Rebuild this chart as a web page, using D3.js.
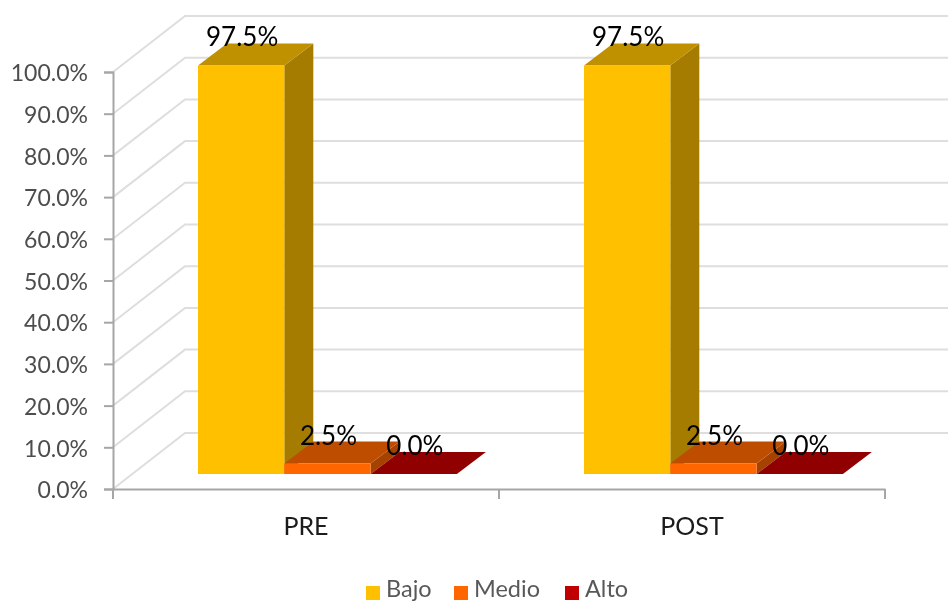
<!DOCTYPE html>
<html><head><meta charset="utf-8">
<script src="https://cdn.jsdelivr.net/npm/d3@7"></script>
<style>html,body{margin:0;background:#fff;overflow:hidden}svg{display:block}text{font-family:Lato,"Open Sans",sans-serif}</style>
</head><body><svg id="c" width="948" height="603"></svg>
<script>
const categories=["PRE","POST"];
const seriesNames=["Bajo","Medio","Alto"];
const bajo=[97.5,97.5];
const medio=[2.5,2.5];
const alto=[0,0];
const seriesValues=[bajo,medio,alto];
const tickValues=[0,10,20,30,40,50,60,70,80,90,100];
const frontColors=["#FFC000","#FF6600","#C00000"];
const topColors=["#BF9000","#BF4D00","#900000"];
const sideColors=["#A67C00","#A64200","#700000"];
const legendColors=["#FFC000","#FF6600","#C00000"];

const fmt=d=>d.toFixed(1)+"%";
const svg=d3.select("#c");
const defs=svg.append("defs");
defs.append("filter").attr("id","soft").attr("x","-5%").attr("y","-5%").attr("width","110%").attr("height","110%")
  .append("feGaussianBlur").attr("stdDeviation",0.5);
const g=svg.append("g").attr("filter","url(#soft)");

const y=d3.scaleLinear().domain([0,100]).range([489,72]);
const yBar=d3.scaleLinear().domain([0,100]).range([474,55]);
const x0=d3.scaleBand().domain(categories).range([113,885]);
const barW=86.3, barLead=85;
const xBar=(ci,si)=>x0(categories[ci])+barLead+si*barW;
const wall={dx:72,dy:-56}, depth={dx:29,dy:-22};

tickValues.forEach(v=>{
  const yy=y(v);
  g.append("polyline")
    .attr("points",[[113,yy],[113+wall.dx,yy+wall.dy],[948,yy+wall.dy]].map(p=>p.join(",")).join(" "))
    .attr("fill","none").attr("stroke","#DEDEDE").attr("stroke-width",2);
});

const axY=g.append("g").attr("transform","translate(113,0)")
  .call(d3.axisLeft(y).tickValues(tickValues).tickFormat(fmt).tickSize(9).tickPadding(16));
const axX=g.append("g").attr("transform","translate(0,489)")
  .call(d3.axisBottom(x0).tickSize(0).tickPadding(28));
axX.selectAll(".tick").selectAll("line").remove();
const edges=x0.domain().map(c=>x0(c)).concat([x0.range()[1]]);
axX.selectAll("line.edge").data(edges).enter().append("line").attr("class","edge")
  .attr("x1",d=>d).attr("x2",d=>d).attr("y1",0).attr("y2",10);
[axY,axX].forEach(a=>{
  a.selectAll(".domain").attr("stroke","#A6A6A6").attr("stroke-width",2);
  a.selectAll("line").attr("stroke","#A6A6A6").attr("stroke-width",2);
});
axY.selectAll("text").attr("fill","#4d4d4d").style("font-size","23px").attr("text-anchor","end").attr("dy","0.38em");
axX.selectAll("text").attr("fill","#1a1a1a").style("font-size","25px");

const poly=(pts,fill)=>g.append("polygon").attr("points",pts.map(p=>p.join(",")).join(" ")).attr("fill",fill);
categories.forEach((c,ci)=>{
  seriesValues.forEach((vals,si)=>{
    const v=vals[ci], l=xBar(ci,si), r=l+barW, t=yBar(v), b=yBar(0), dx=depth.dx, dy=depth.dy;
    poly([[r,t],[r+dx,t+dy],[r+dx,b+dy],[r,b]],sideColors[si]);
    poly([[l,t],[l+dx,t+dy],[r+dx,t+dy],[r,t]],topColors[si]);
    if(b-t>0) poly([[l,t],[r,t],[r,b],[l,b]],frontColors[si]);
  });
});
categories.forEach((c,ci)=>{
  seriesValues.forEach((vals,si)=>{
    const v=vals[ci];
    g.append("text").text(fmt(v))
      .attr("x",xBar(ci,si)+barW/2+1)
      .attr("y",yBar(v)-19)
      .attr("text-anchor","middle").attr("fill","#000").style("font-size","26px");
  });
});
const legendX=[366,454,565];
seriesNames.forEach((n,i)=>{
  g.append("rect").attr("x",legendX[i]).attr("y",586).attr("width",14).attr("height",14).attr("fill",legendColors[i]);
  g.append("text").text(n).attr("x",legendX[i]+20).attr("y",596.5).attr("fill","#595959").style("font-size","23.5px");
});
</script></body></html>
